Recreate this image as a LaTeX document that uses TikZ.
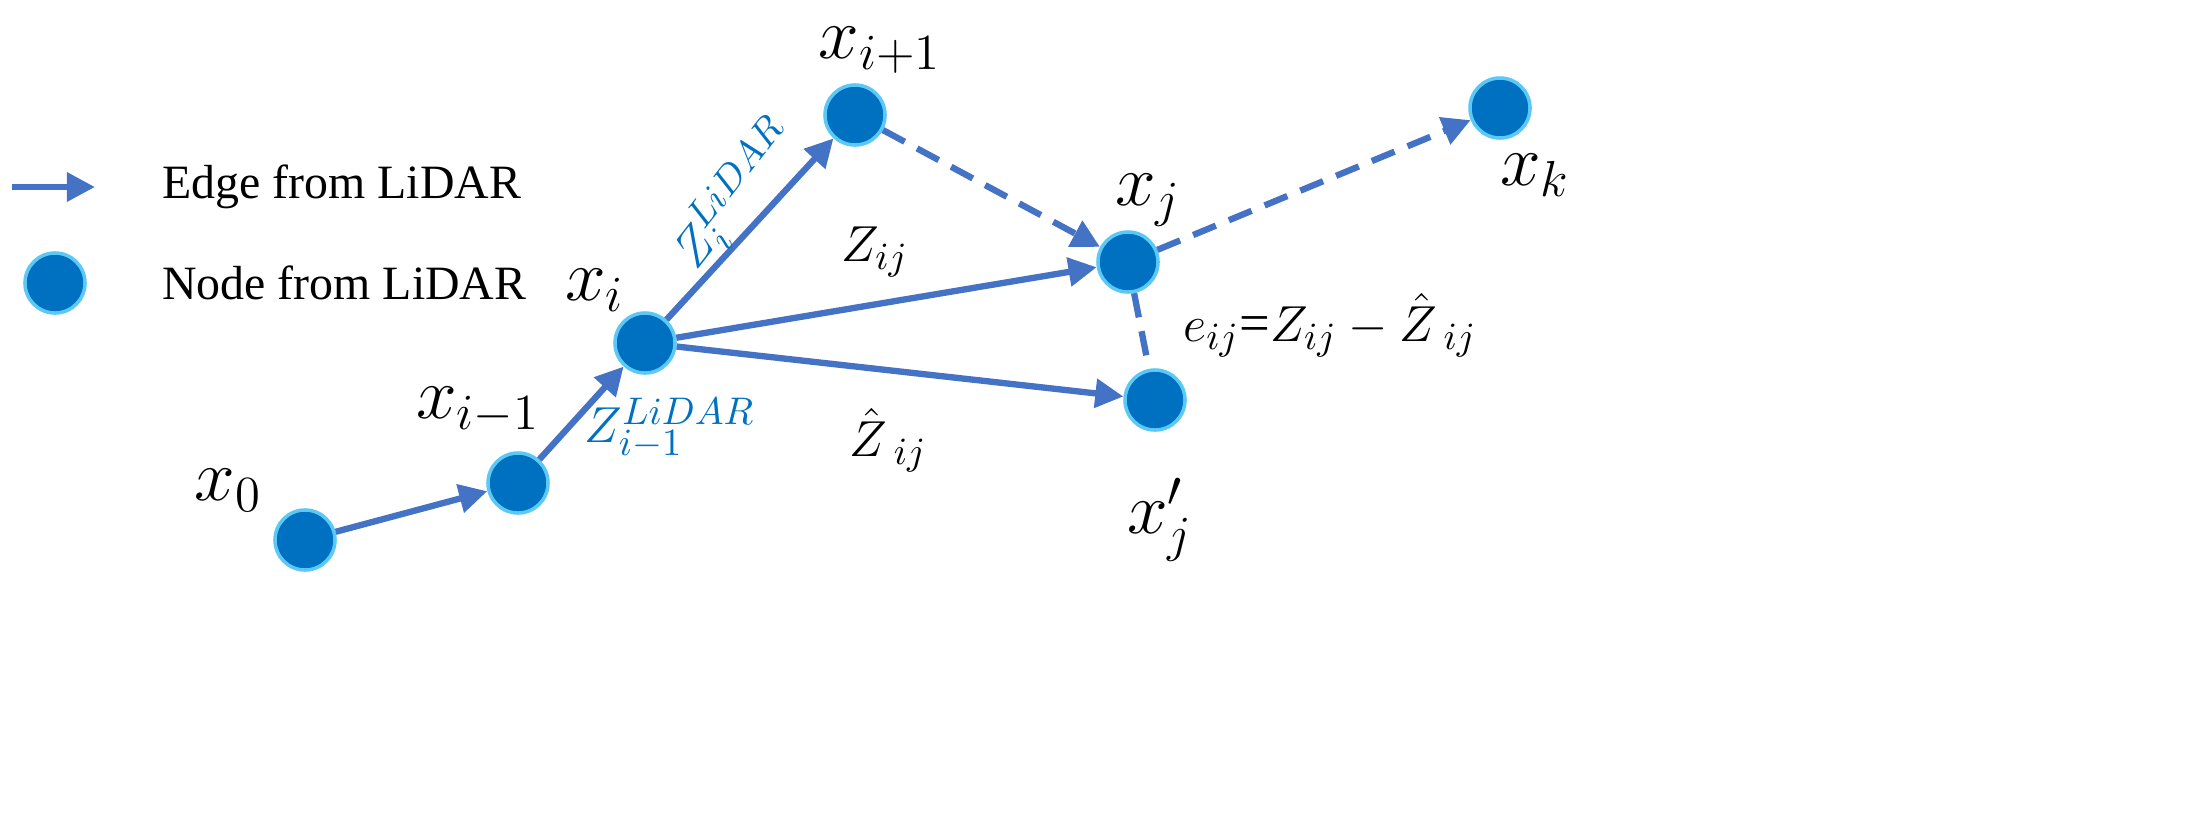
\documentclass[tikz,border=0pt]{standalone}
\usepackage{fontspec}
\setmainfont{Liberation Serif}
\usetikzlibrary{arrows.meta}
\definecolor{nfill}{HTML}{0070C0}
\definecolor{nedge}{HTML}{5BC8F5}
\definecolor{aline}{HTML}{4472C4}
\begin{document}
\begin{tikzpicture}[x=0.01cm,y=-0.01cm,
  nd/.style={circle,fill=nfill,draw=nedge,line width=1pt,minimum size=0.6cm,inner sep=0pt},
  ed/.style={draw=aline,line width=1.8pt,-{Triangle[length=8pt,width=8pt]}},
  dd/.style={ed,dash pattern=on 7pt off 4pt},
  lb/.style={font=\fontsize{21}{23}\selectfont},
  bl/.style={text=nfill,font=\fontsize{15.5}{18}\selectfont},
  lg/.style={anchor=west,font=\fontsize{13.6}{16}\selectfont}]
\useasboundingbox (0,0) rectangle (2199,830);
\node[nd] (x0) at (305,540) {};
\node[nd] (xim) at (518,483) {};
\node[nd] (xi) at (645,343) {};
\node[nd] (xip) at (855,115) {};
\node[nd] (xj) at (1128,262) {};
\node[nd] (xjp) at (1155,400) {};
\node[nd] (xk) at (1500,108) {};
\draw[ed] (x0) -- (xim);
\draw[ed] (xim) -- (xi);
\draw[ed] (xi) -- (xip);
\draw[ed] (xi) -- (xj);
\draw[ed] (xi) -- (xjp);
\draw[dd] (xip) -- (xj);
\draw[dd] (xj) -- (xk);
\draw[draw=aline,line width=1.8pt,dash pattern=on 7pt off 4pt] (xj) -- (xjp);
\node[lb] (l0) at (228,490) {$x_0$};
\node[lb] (l1) at (478,410) {$x_{i-1}$};
\node[lb] (l2) at (595,290) {$x_i$};
\node[lb] (l3) at (880,50) {$x_{i+1}$};
\node[lb] (l4) at (1148,200) {$x_j$};
\node[lb] (l5) at (1535,175) {$x_k$};
\node[lb] (l6) at (1160,520) {$x_j'$};
\node[bl,rotate=52] (z1) at (736,195) {$Z_i^{LiDAR}$};
\node[bl] (z2) at (670,428) {$Z_{i-1}^{LiDAR}$};
\node[bl,text=black] (z3) at (875,252) {$Z_{ij}$};
\node[bl,text=black] (z4) at (888,440) {$\hat{Z}_{\;ij}$};
\node[bl,text=black] (e) at (1330,325) {$e_{ij}$=$Z_{ij}-\hat{Z}_{\;ij}$};
\coordinate (a1) at (12,187);
\coordinate (a2) at (95,187);
\draw[ed] (a1) -- (a2);
\node[nd] (lgn) at (55,283) {};
\node[lg] (t1) at (150,187) {Edge from LiDAR};
\node[lg] (t2) at (150,283) {Node from LiDAR};
\end{tikzpicture}
\end{document}
